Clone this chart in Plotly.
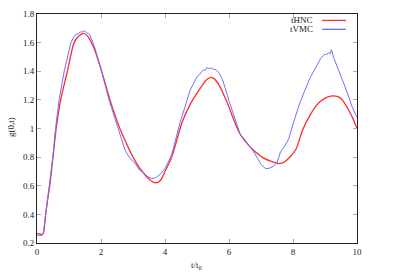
import plotly.graph_objects as go

# tHNC (red)
t_hnc = [0.0, 0.1, 0.15, 0.2, 0.27, 0.33, 0.40, 0.50, 0.60, 0.74, 0.95, 1.16, 1.3, 1.46, 1.6, 1.8,
         2.02, 2.28, 2.59, 2.8, 3.0, 3.2, 3.4, 3.55, 3.71, 3.85, 4.0, 4.21, 4.53, 4.79, 5.1, 5.3,
         5.43, 5.55, 5.7, 5.83, 6.0, 6.15, 6.35, 6.51, 6.82, 7.07, 7.3, 7.57, 7.75, 8.08, 8.3,
         8.55, 8.71, 8.86, 9.07, 9.38, 9.5, 9.7, 9.85, 10.0]
g_hnc = [0.266, 0.262, 0.258, 0.27, 0.40, 0.50, 0.60, 0.80, 1.00, 1.20, 1.40, 1.60, 1.645, 1.664, 1.64, 1.55,
         1.40, 1.20, 1.00, 0.893, 0.80, 0.727, 0.67, 0.637, 0.62, 0.635, 0.70, 0.80, 1.04, 1.17, 1.28, 1.34,
         1.357, 1.345, 1.30, 1.24, 1.15, 1.06, 0.96, 0.91, 0.837, 0.795, 0.772, 0.755, 0.77, 0.85, 0.99,
         1.10, 1.155, 1.19, 1.22, 1.225, 1.21, 1.145, 1.08, 1.0]

# tVMC (blue)
t_vmc = [0.0, 0.1, 0.15, 0.2, 0.27, 0.40, 0.50, 0.58, 0.69, 0.85, 1.06, 1.15, 1.2, 1.3, 1.35, 1.4, 1.48,
         1.55, 1.65, 1.8, 2.02, 2.25, 2.53, 2.75, 2.88, 3.0, 3.1, 3.2, 3.3, 3.45, 3.59, 3.7, 3.85, 4.0,
         4.2, 4.47, 4.79, 5.0, 5.1, 5.2, 5.25, 5.31, 5.4, 5.45, 5.5, 5.6, 5.7, 5.8, 6.02, 6.19, 6.35, 6.51,
         6.77, 7.0, 7.14, 7.25, 7.35, 7.5, 7.61, 7.75, 7.87, 8.0, 8.08, 8.2, 8.34, 8.45, 8.55, 8.7, 8.86,
         8.95, 9.0, 9.05, 9.1, 9.15, 9.2, 9.28, 9.4, 9.5, 9.54, 9.6, 9.7, 9.85, 10.0]
g_vmc = [0.255, 0.252, 0.253, 0.27, 0.40, 0.61, 0.81, 1.00, 1.20, 1.40, 1.60, 1.64, 1.655, 1.662, 1.675, 1.673, 1.684,
         1.67, 1.655, 1.57, 1.40, 1.20, 1.00, 0.85, 0.80, 0.77, 0.745, 0.71, 0.695, 0.665, 0.65, 0.655, 0.68, 0.72,
         0.81, 1.04, 1.27, 1.36, 1.385, 1.41, 1.405, 1.426, 1.418, 1.423, 1.415, 1.41, 1.385, 1.34, 1.18, 1.065, 0.96, 0.917,
         0.837, 0.75, 0.72, 0.722, 0.73, 0.76, 0.837, 0.88, 0.93, 1.03, 1.09, 1.17, 1.25, 1.31, 1.362, 1.42, 1.488,
         1.51, 1.52, 1.515, 1.53, 1.52, 1.55, 1.49, 1.42, 1.37, 1.34, 1.31, 1.248, 1.15, 1.077]

x_ticks = [0, 2, 4, 6, 8, 10]
y_ticks = [0.2, 0.4, 0.6, 0.8, 1.0, 1.2, 1.4, 1.6, 1.8]
y_labels = ["0.2", "0.4", "0.6", "0.8", "1", "1.2", "1.4", "1.6", "1.8"]

RED = "#ff2a2a"
BLUE = "#6f6fff"
FONT = "Liberation Serif"
FS = 9

fig = go.Figure()
fig.add_trace(go.Scatter(x=t_hnc, y=g_hnc, mode="lines", name="tHNC",
                         line=dict(color=RED, width=1.3, shape="spline", smoothing=0.8)))
fig.add_trace(go.Scatter(x=t_vmc, y=g_vmc, mode="lines", name="tVMC",
                         line=dict(color=BLUE, width=1)))

axis_common = dict(showgrid=False, zeroline=False, showline=True, linecolor="#222", linewidth=1,
                   mirror="allticks", ticks="inside", ticklen=4, tickwidth=1, tickcolor="#aaa",
                   tickfont=dict(family=FONT, size=FS, color="#222"))

fig.update_layout(
    width=399, height=279,
    margin=dict(l=37, r=42, t=9, b=36),
    paper_bgcolor="white", plot_bgcolor="white",
    showlegend=False,
    xaxis=dict(range=[0, 10], tickvals=x_ticks, **axis_common),
    yaxis=dict(range=[0.2, 1.8], tickvals=y_ticks, ticktext=y_labels, **axis_common),
    font=dict(family=FONT, size=FS, color="#222"),
)

# axis titles
fig.add_annotation(text="t/t<sub>0</sub>", xref="paper", yref="paper", x=0.497, y=-0.098,
                   showarrow=False, xanchor="center", yanchor="middle", font=dict(family=FONT, size=FS))
fig.add_annotation(text="g(0,t)", xref="paper", yref="paper", x=-0.079, y=0.505, textangle=-90,
                   showarrow=False, xanchor="center", yanchor="middle", font=dict(family=FONT, size=FS))

# legend (gnuplot style: text then sample line)
for name, color, yy in [("tHNC", RED, 0.972), ("tVMC", BLUE, 0.933)]:
    fig.add_annotation(text=name, xref="paper", yref="paper", x=0.869, y=yy, showarrow=False,
                       xanchor="right", yanchor="middle", font=dict(family=FONT, size=FS))
    fig.add_shape(type="line", xref="paper", yref="paper", x0=0.891, x1=0.9655, y0=yy, y1=yy,
                  line=dict(color=color, width=1.3))

fig.write_html("out.html", config={"displayModeBar": False},
               post_script="document.body.style.margin='0';")
